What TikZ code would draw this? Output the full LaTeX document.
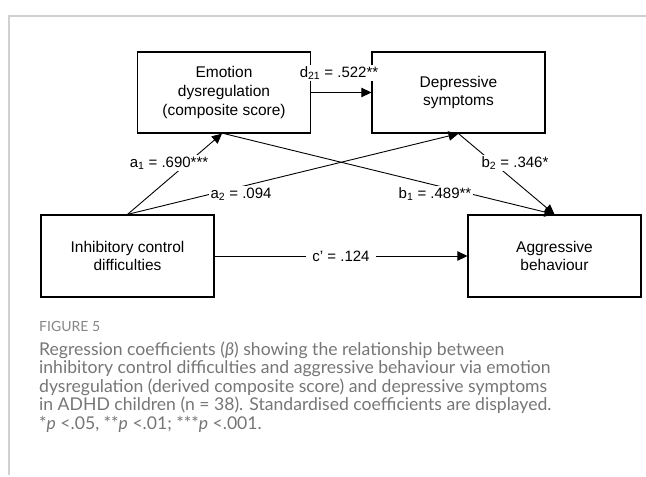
\documentclass[tikz,border=0pt]{standalone}
\usepackage{fontspec}
\setmainfont{Liberation Sans}
\newfontfamily\capfont{Lato}
\usetikzlibrary{arrows.meta,calc}
\definecolor{framegray}{HTML}{D0D0D0}
\definecolor{capgray}{HTML}{767676}
\definecolor{figgray}{HTML}{858585}
\tikzset{
  box/.style={draw=black, line width=1.2pt, minimum width=173pt, minimum height=81pt,
    align=center, inner sep=0pt, font=\fontsize{15.5}{18.8}\selectfont},
  conn/.style={line width=0.9pt, -{Triangle[length=10pt,width=9.5pt]}},
  lbl/.style={fill=white, inner sep=1.5pt, font=\fontsize{15}{18}\selectfont},
  capline/.style={anchor=base west, inner sep=0pt, text=capgray,
    font=\capfont\fontsize{17.6}{18}\selectfont},
}
\begin{document}
\begin{tikzpicture}[x=1pt, y=-1pt]
\useasboundingbox (0,0) rectangle (646,477);
% frame
\draw[framegray, line width=1.4pt] (9,475) -- (9,16) -- (646,16);
% boxes
\node[box] (E) at (224,92.5) {Emotion\\dysregulation\\(composite score)};
\node[box] (D) at (458.5,92.5) {Depressive\\symptoms};
\node[box, minimum height=82pt] (I) at (127.5,256) {Inhibitory control\\difficulties};
\node[box, minimum height=82pt] (A) at (554.5,256) {Aggressive\\behaviour};
% connectors
\draw[conn] (E) -- (D);
\draw[conn] (I.north) -- ($(E.south)+(-2,0)$);
\draw[conn] (I.north) -- (D.south);
\draw[conn] (E.south) -- (A.north);
\draw[conn] (D.south) -- (A.north);
\draw[conn] (I) -- (A);
% labels
\node[lbl] (ld) at (339,73) {d\textsubscript{21} = .522**};
\node[lbl] (la1) at (169,163) {a\textsubscript{1} = .690***};
\node[lbl] (la2) at (241,194) {a\textsubscript{2} = .094};
\node[lbl] (lb1) at (435,194) {b\textsubscript{1} = .489**};
\node[lbl] (lb2) at (515,163) {b\textsubscript{2} = .346*};
\node[lbl, inner sep=6pt] (lc) at (341,256) {c’ = .124};
% caption
\node[anchor=base west, inner sep=0pt, text=figgray, font=\capfont\fontsize{14}{16}\selectfont] (fig) at (39,331.5) {FIGURE 5};
\node[capline] (c1) at (39,355) {Regression coefficients ({\itshape β}) showing the relationship between};
\node[capline] (c2) at (39,373.5) {inhibitory control difficulties and aggressive behaviour via emotion};
\node[capline] (c3) at (39,392) {dysregulation (derived composite score) and depressive symptoms};
\node[capline] (c4) at (39,410.5) {in ADHD children (n = 38). Standardised coefficients are displayed.};
\node[capline] (c5) at (39,429) {*{\itshape p} <.05, **{\itshape p} <.01; ***{\itshape p} <.001.};
\end{tikzpicture}
\end{document}
